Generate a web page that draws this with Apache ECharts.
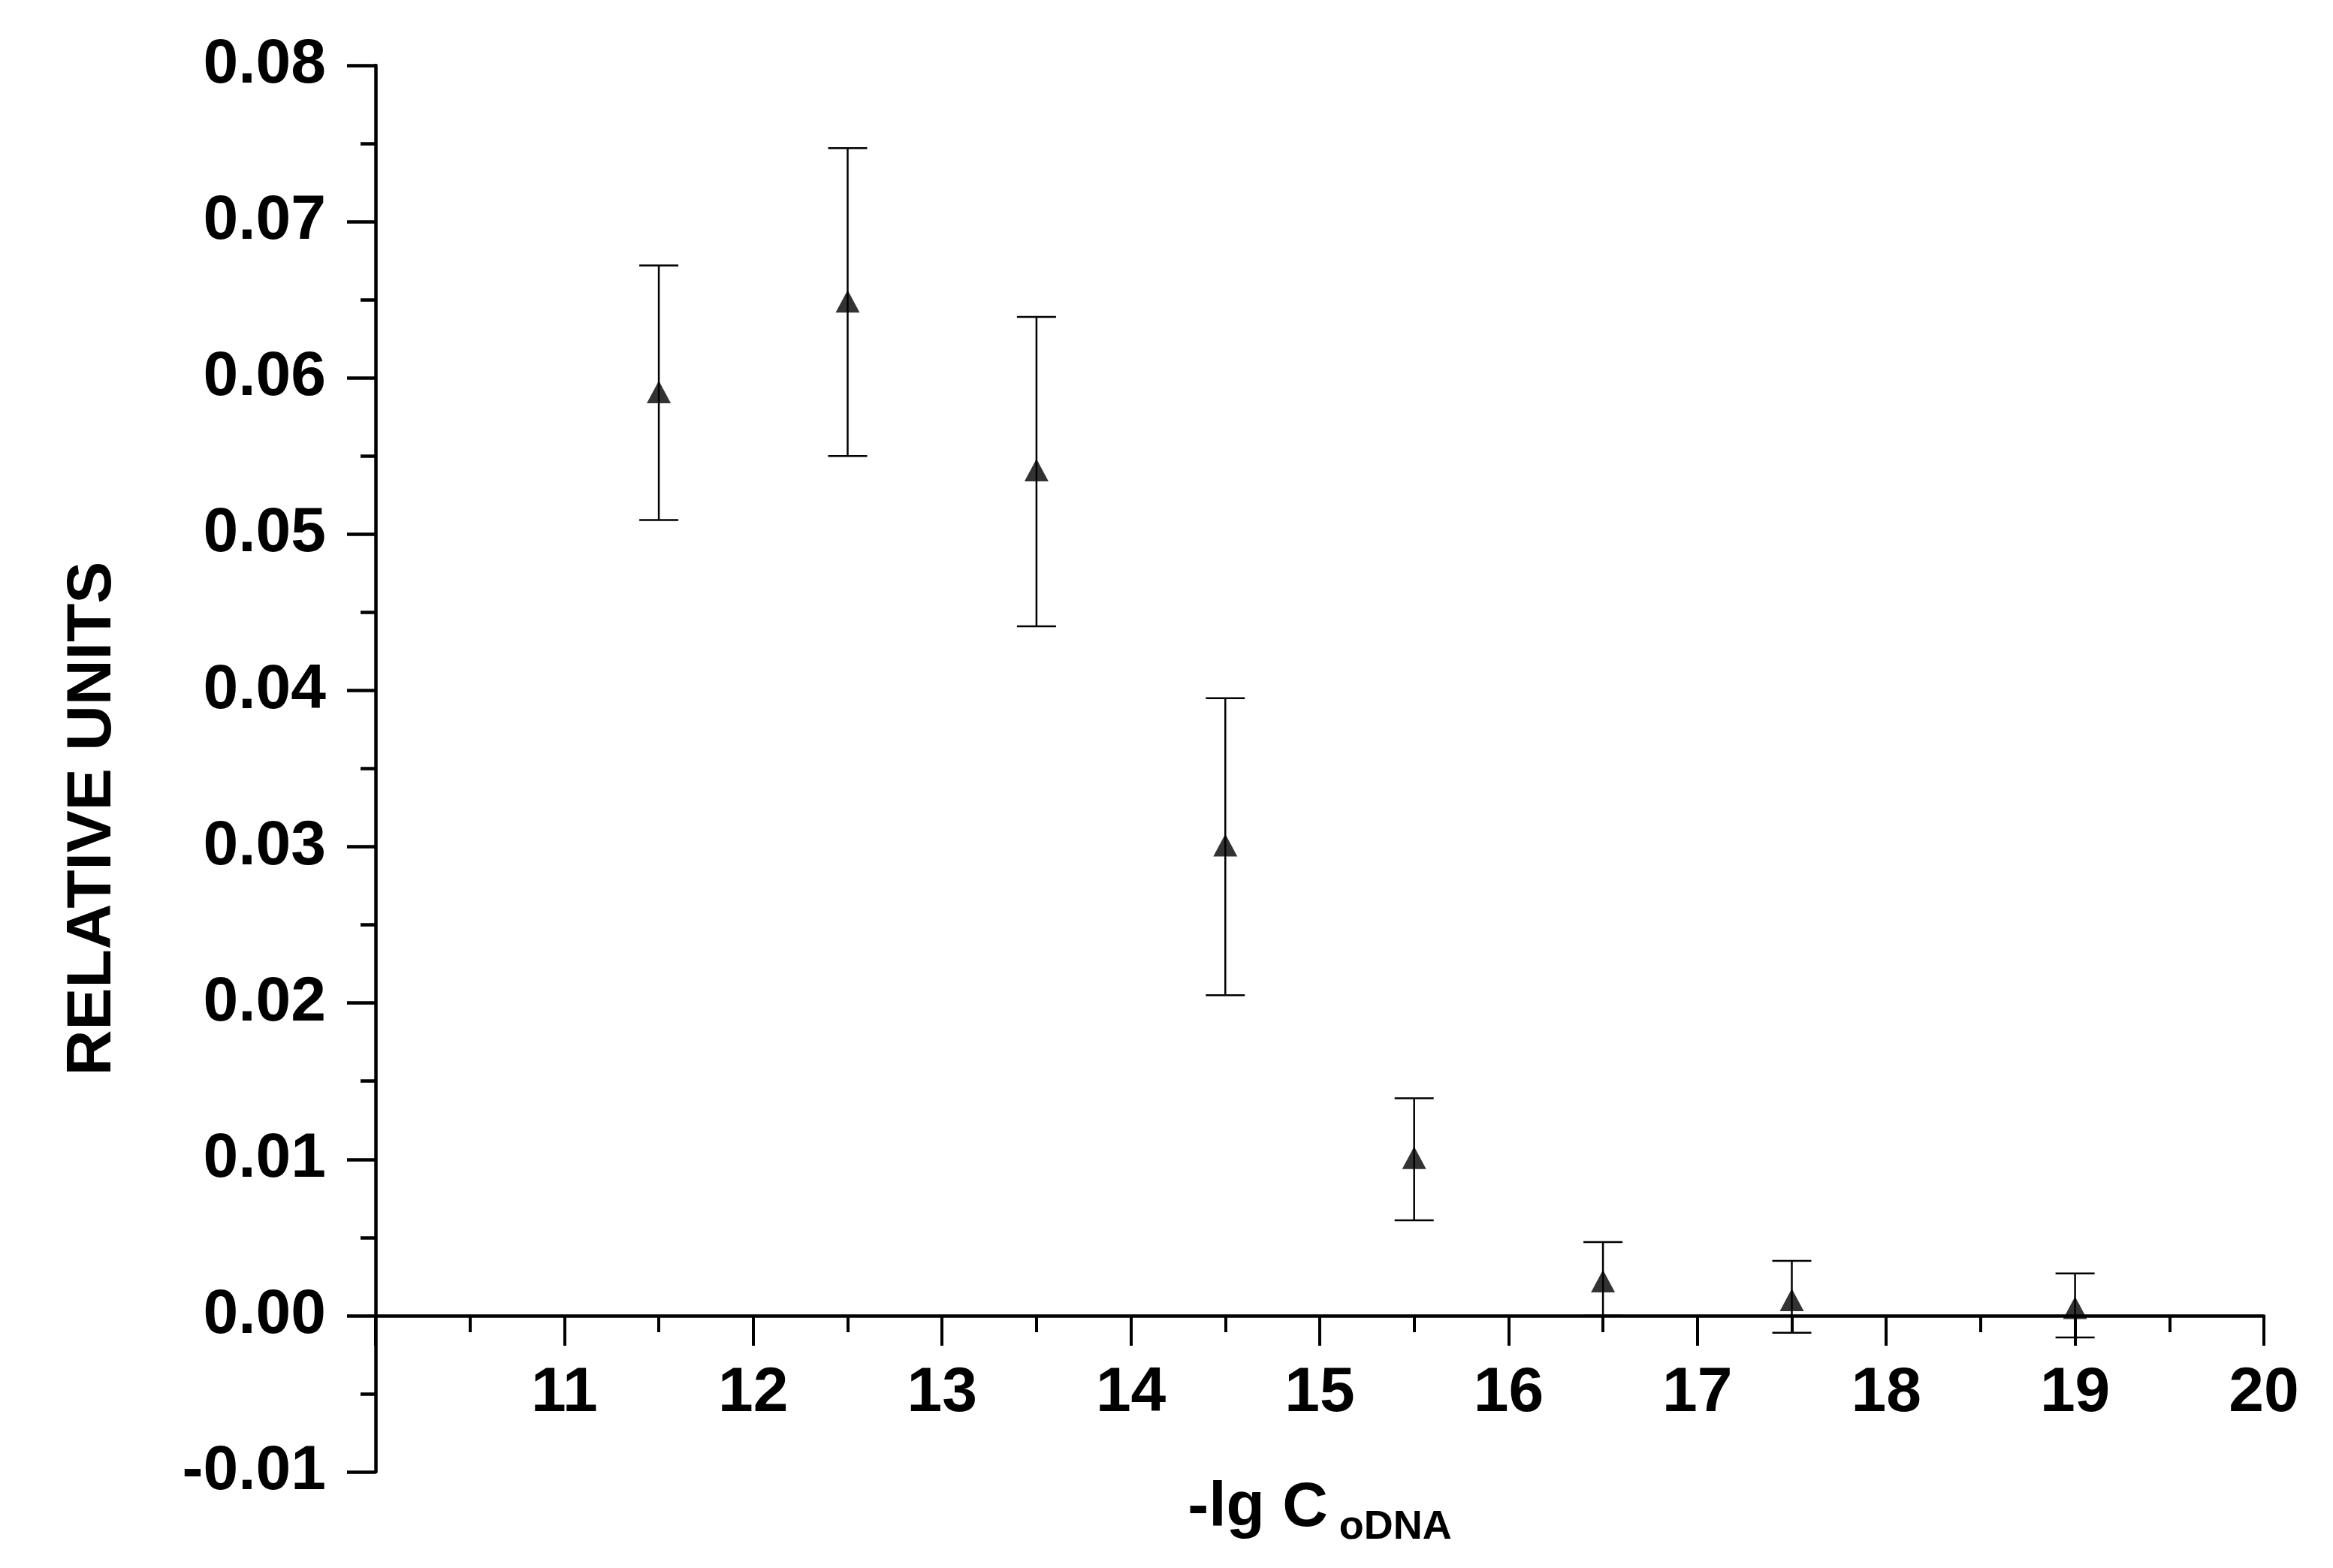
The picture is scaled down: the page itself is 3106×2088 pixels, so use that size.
<!DOCTYPE html>
<html><head><meta charset="utf-8">
<script src="https://cdn.jsdelivr.net/npm/echarts@6/dist/echarts.min.js"></script>
<style>html,body{margin:0;padding:0;background:#fff}#c{width:3106px;height:2088px}</style>
</head><body><div id="c"></div>
<script>
const xValues = [11.5, 12.5, 13.5, 14.5, 15.5, 16.5, 17.5, 19];
const yValues = [0.0591, 0.0649, 0.0541, 0.0301, 0.0101, 0.0022, 0.0010, 0.0005];
const errHigh = [0.0672, 0.0747, 0.0639, 0.0395, 0.0139, 0.0047, 0.0035, 0.0027];
const errLow  = [0.0509, 0.0550, 0.0441, 0.0205, 0.0061, 0.0000, -0.0011, -0.0014];

const chart = echarts.init(document.getElementById('c'));
const F = 'Liberation Sans, Arial, sans-serif';
const TOP = 87, BOTTOM = 128;
const unitPx = (2088 - TOP - BOTTOM) / 9;
chart.setOption({
  animation: false,
  backgroundColor: '#fff',
  grid: { left: 500, right: 92, top: TOP, bottom: BOTTOM },
  graphic: [{
    type: 'text', x: 124, y: 1090, rotation: Math.PI / 2,
    style: { text: 'RELATIVE UNITS', fontFamily: F, fontWeight: 'bold', fontSize: 84, fill: '#000',
      align: 'center', verticalAlign: 'middle' }
  }],
  xAxis: {
    type: 'value', min: 10, max: 20, interval: 1,
    offset: -unitPx,
    axisLine: { onZero: false, lineStyle: { color: '#000', width: 4.5 } },
    axisTick: { show: true, inside: false, length: 40, lineStyle: { color: '#000', width: 4 } },
    minorTick: { show: true, splitNumber: 2, length: 22, lineStyle: { color: '#000', width: 4 } },
    splitLine: { show: false },
    axisLabel: { fontFamily: F, fontWeight: 'bold', fontSize: 84, color: '#000', margin: 62,
      formatter: v => v === 10 ? '' : String(v) },
    name: '{a|-lg C}{b| oDNA}', nameLocation: 'middle', nameGap: 205,
    nameTextStyle: { rich: {
      a: { fontFamily: F, fontWeight: 'bold', fontSize: 84, color: '#000' },
      b: { fontFamily: F, fontWeight: 'bold', fontSize: 54, color: '#000', padding: [50, 0, 0, 0] } } }
  },
  yAxis: {
    type: 'value', min: -0.01, max: 0.08, interval: 0.01,
    axisLine: { show: true, lineStyle: { color: '#000', width: 4.5 } },
    axisTick: { show: true, length: 38, lineStyle: { color: '#000', width: 4.5 } },
    minorTick: { show: true, splitNumber: 2, length: 20, lineStyle: { color: '#000', width: 4.5 } },
    splitLine: { show: false },
    axisLabel: { fontFamily: F, fontWeight: 'bold', fontSize: 84, color: '#000', margin: 66,
      formatter: v => v.toFixed(2) }
  },
  series: [
    {
      type: 'custom',
      data: xValues.map((x, i) => [x, errLow[i], errHigh[i]]),
      renderItem: function (params, api) {
        const lo = api.coord([api.value(0), api.value(1)]);
        const hi = api.coord([api.value(0), api.value(2)]);
        const w = 26;
        const st = { stroke: '#000', lineWidth: 2.5 };
        return { type: 'group', children: [
          { type: 'line', shape: { x1: lo[0], y1: lo[1], x2: hi[0], y2: hi[1] }, style: st },
          { type: 'line', shape: { x1: hi[0] - w, y1: hi[1], x2: hi[0] + w, y2: hi[1] }, style: st },
          { type: 'line', shape: { x1: lo[0] - w, y1: lo[1], x2: lo[0] + w, y2: lo[1] }, style: st }
        ] };
      },
      z: 2
    },
    {
      type: 'scatter', symbol: 'triangle', symbolSize: [32, 30],
      itemStyle: { color: '#000' },
      data: xValues.map((x, i) => [x, yValues[i]]),
      z: 3
    }
  ]
});
</script></body></html>
